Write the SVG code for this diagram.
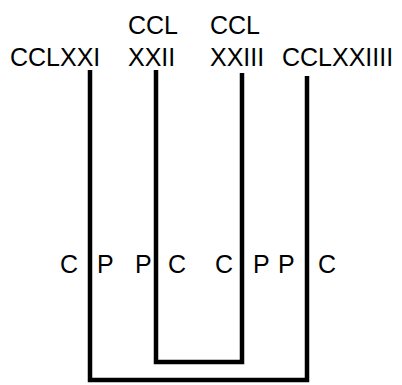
<svg xmlns="http://www.w3.org/2000/svg" width="402" height="385" viewBox="0 0 402 385">
<style>
text{font-family:"Liberation Sans",Arial,sans-serif;font-size:25px;fill:#000}
.e{fill:none;stroke:#000;stroke-width:4.5;stroke-linejoin:miter;stroke-linecap:butt}
</style>
<rect width="402" height="385" fill="#fff"/>
<g id="connectors">
<path class="e" d="M90,70 V380 H307 V76"/>
<path class="e" d="M156,70 V362 H242 V73"/>
</g>
<g id="n1"><text x="10" y="66">CCLXXI</text></g>
<g id="n2"><text x="128" y="34">CCL</text><text x="128" y="66">XXII</text></g>
<g id="n3"><text x="210" y="34">CCL</text><text x="210" y="66">XXIII</text></g>
<g id="n4"><text x="282" y="66">CCLXXIIII</text></g>
<g id="labels">
<text x="60" y="273">C</text>
<text x="97" y="273">P</text>
<text x="135" y="273">P</text>
<text x="168" y="273">C</text>
<text x="215" y="273">C</text>
<text x="253" y="273">P</text>
<text x="278" y="273">P</text>
<text x="318" y="273">C</text>
</g>
</svg>
